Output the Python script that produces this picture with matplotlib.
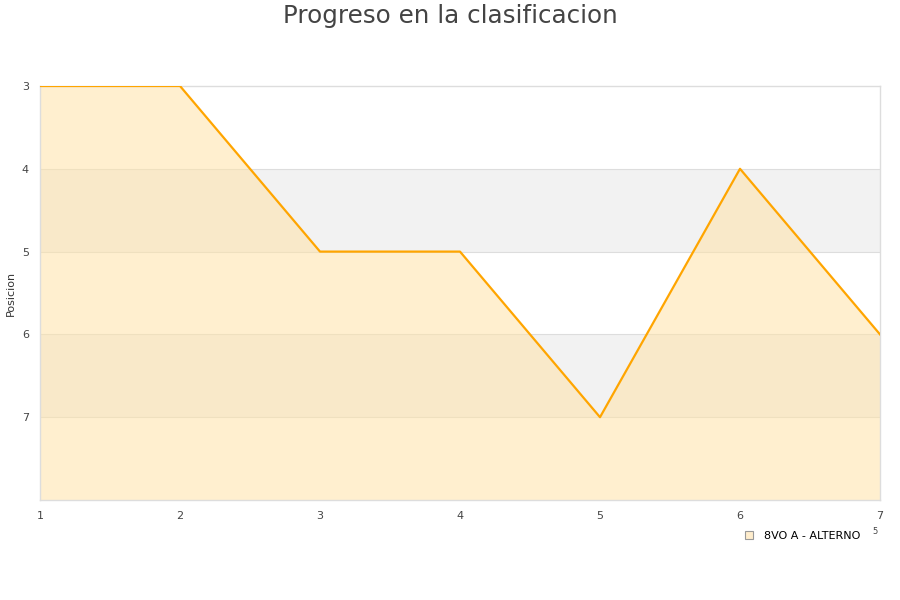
import matplotlib
matplotlib.use("Agg")
import matplotlib.pyplot as plt
from matplotlib.lines import Line2D

jornadas = [1, 2, 3, 4, 5, 6, 7]
posiciones = [3, 3, 5, 5, 7, 4, 6]
serie = "8VO A - ALTERNO"
titulo = "Progreso en la clasificacion"
ylabel = "Posicion"
yticks = [3, 4, 5, 6, 7]

plt.rcParams['font.family'] = ['DejaVu Sans']
fig = plt.figure(figsize=(9, 6), dpi=100)
ax = fig.add_axes([40/900, 100/600, 840/900, 414/600])

ax.set_xlim(1, 7)
ax.set_ylim(8, 3)

for lo, hi in [(4, 5), (6, 7)]:
    ax.axhspan(lo, hi, color='#f2f2f2', zorder=0, lw=0)
for y in [4, 5, 6, 7]:
    ax.axhline(y, color='#dddddd', lw=0.8, zorder=1)

ax.fill_between(jornadas, posiciones, 8, color='#ffe3a8', alpha=0.55, lw=0, zorder=2)
ax.plot(jornadas, posiciones, color='#ffa500', lw=1.6, zorder=3)

ax.set_xticks(jornadas)
ax.set_yticks(yticks)
ax.tick_params(axis='both', length=0, labelsize=8, colors='#444444')
ax.tick_params(axis='x', pad=8)
ax.tick_params(axis='y', pad=8)
for s in ax.spines.values():
    s.set_color('#dddddd')
    s.set_linewidth(1)

fig.text(11/900, 1 - 293/600, ylabel, rotation=90, fontsize=8, color='#333333',
         ha='center', va='center')
fig.text(0.5, 1 - 16/600, titulo, ha='center', va='center', fontsize=17.7, color='#444444')

handle = Line2D([], [], marker='s', linestyle='none', markersize=6,
                markerfacecolor='#ffedcc', markeredgecolor='#999999', markeredgewidth=0.8)
fig.legend([handle], [serie], loc='center left', bbox_to_anchor=(738/900, 1 - 536/600),
           frameon=False, fontsize=8, handletextpad=0.3, borderpad=0, borderaxespad=0)
fig.text(875/900, 1 - 532/600, "5", fontsize=6, color='#444444', ha='center', va='center')

fig.savefig("out.png", dpi=100)
